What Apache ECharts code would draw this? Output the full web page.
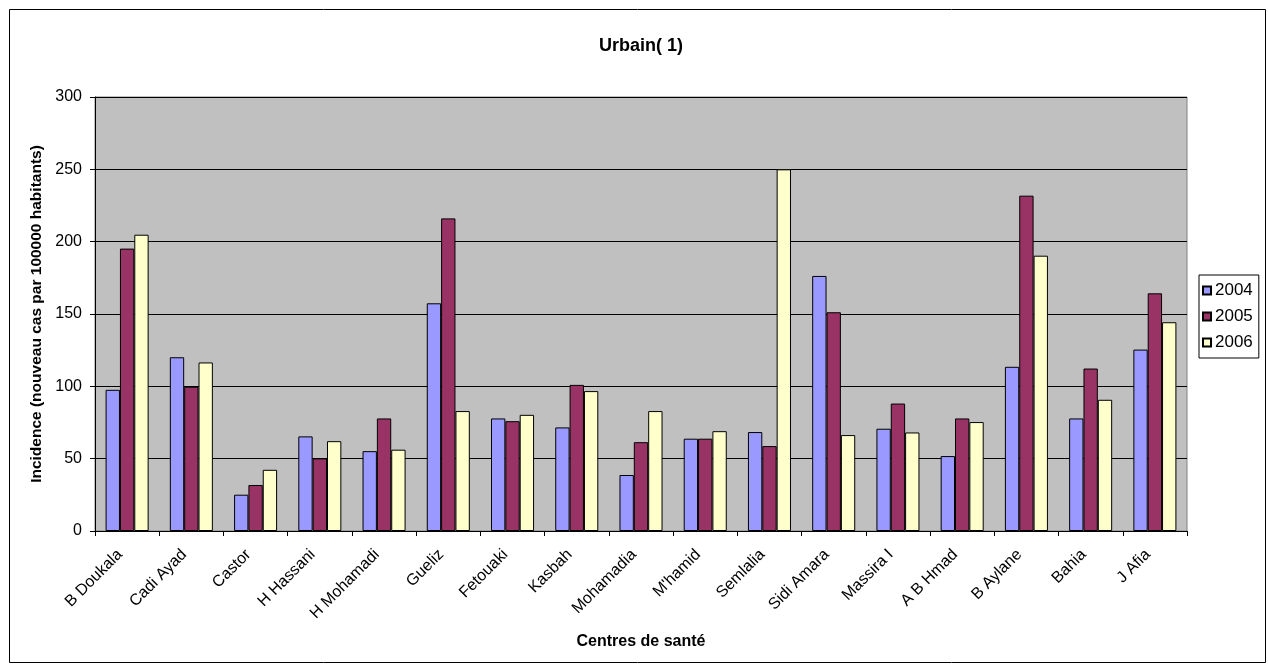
<!DOCTYPE html>
<html>
<head>
<meta charset="utf-8">
<script src="https://cdn.jsdelivr.net/npm/echarts@6/dist/echarts.min.js"></script>
<style>
  html, body { margin: 0; padding: 0; background: #fff; }
  #chart { width: 1268px; height: 664px; }
</style>
</head>
<body>
<div id="chart"></div>
<script>
// centres de santé
var centres = ["B Doukala", "Cadi Ayad", "Castor", "H Hassani", "H Mohamadi", "Gueliz", "Fetouaki",
  "Kasbah", "Mohamadia", "M'hamid", "Semlalia", "Sidi Amara", "Massira I", "A B Hmad",
  "B Aylane", "Bahia", "J Afia"];
var data2004 = [97.6, 120.1, 25.1, 65.4, 55.2, 157.4, 77.8, 71.6, 38.7, 63.8, 68.4, 176.3, 70.7, 51.8, 113.5, 77.8, 125.4];
var data2005 = [195.2, 99.7, 31.8, 50.2, 77.8, 216.1, 75.9, 101.0, 61.4, 63.8, 58.7, 151.2, 88.1, 77.8, 231.8, 112.3, 164.3];
var data2006 = [204.8, 116.5, 42.3, 62.1, 56.2, 82.9, 80.3, 96.7, 82.9, 69.0, 250, 66.3, 68.1, 75.3, 190.3, 90.7, 144.3];
var yTicks = [0, 50, 100, 150, 200, 250, 300];

var font = "Liberation Sans, Arial, sans-serif";
var chart = echarts.init(document.getElementById("chart"));

function barSerie(name, color, values) {
  return {
    name: name,
    type: "bar",
    data: values,
    barGap: "0%",
    barCategoryGap: "33%",
    itemStyle: { color: color, borderColor: "#000", borderWidth: 1 },
    animation: false
  };
}

chart.setOption({
  animation: false,
  title: {
    text: "Urbain( 1)",
    left: 594,
    top: 32,
    textStyle: { fontFamily: font, fontSize: 18, fontWeight: "bold", color: "#000" }
  },
  graphic: [{
    type: "rect",
    shape: { x: 9.5, y: 9.5, width: 1256, height: 653 },
    style: { fill: "none", stroke: "#000", lineWidth: 1 },
    silent: true
  }],
  legend: {
    orient: "vertical",
    left: 1199,
    top: 275,
    padding: [7, 6, 7, 3],
    itemGap: 9,
    itemWidth: 8,
    itemHeight: 8,
    borderColor: "#000",
    borderWidth: 1,
    icon: "rect",
    textStyle: { fontFamily: font, fontSize: 17, color: "#000", padding: [0, 0, 0, -1] },
    data: ["2004", "2005", "2006"]
  },
  grid: {
    left: 95, right: 81, top: 97, bottom: 133,
    show: true,
    backgroundColor: "#C0C0C0",
    borderColor: "#808080",
    borderWidth: 1
  },
  xAxis: {
    type: "category",
    data: centres,
    name: "Centres de santé",
    nameLocation: "middle",
    nameGap: 103,
    nameTextStyle: { fontFamily: font, fontSize: 16, fontWeight: "bold", color: "#000" },
    axisLine: { lineStyle: { color: "#000", width: 1 } },
    axisTick: { show: true, length: 5, lineStyle: { color: "#000" } },
    axisLabel: { rotate: 45, interval: 0, margin: 14, padding: [0, 10, 0, 0], fontFamily: font, fontSize: 16, color: "#000" }
  },
  yAxis: {
    type: "value",
    min: 0,
    max: yTicks[yTicks.length - 1],
    interval: yTicks[1] - yTicks[0],
    name: "Incidence (nouveau cas par 100000 habitants)",
    nameLocation: "middle",
    nameGap: 49,
    nameTextStyle: { fontFamily: font, fontSize: 15.5, fontWeight: "bold", color: "#000" },
    axisLine: { show: true, lineStyle: { color: "#000", width: 1 } },
    axisTick: { show: true, length: 5, lineStyle: { color: "#000" } },
    axisLabel: { margin: 13, fontFamily: font, fontSize: 16, color: "#000" },
    splitLine: { show: true, lineStyle: { color: "#000", width: 1 } }
  },
  series: [
    barSerie("2004", "#9999FF", data2004),
    barSerie("2005", "#993366", data2005),
    barSerie("2006", "#FFFFCC", data2006)
  ]
});
</script>
</body>
</html>
